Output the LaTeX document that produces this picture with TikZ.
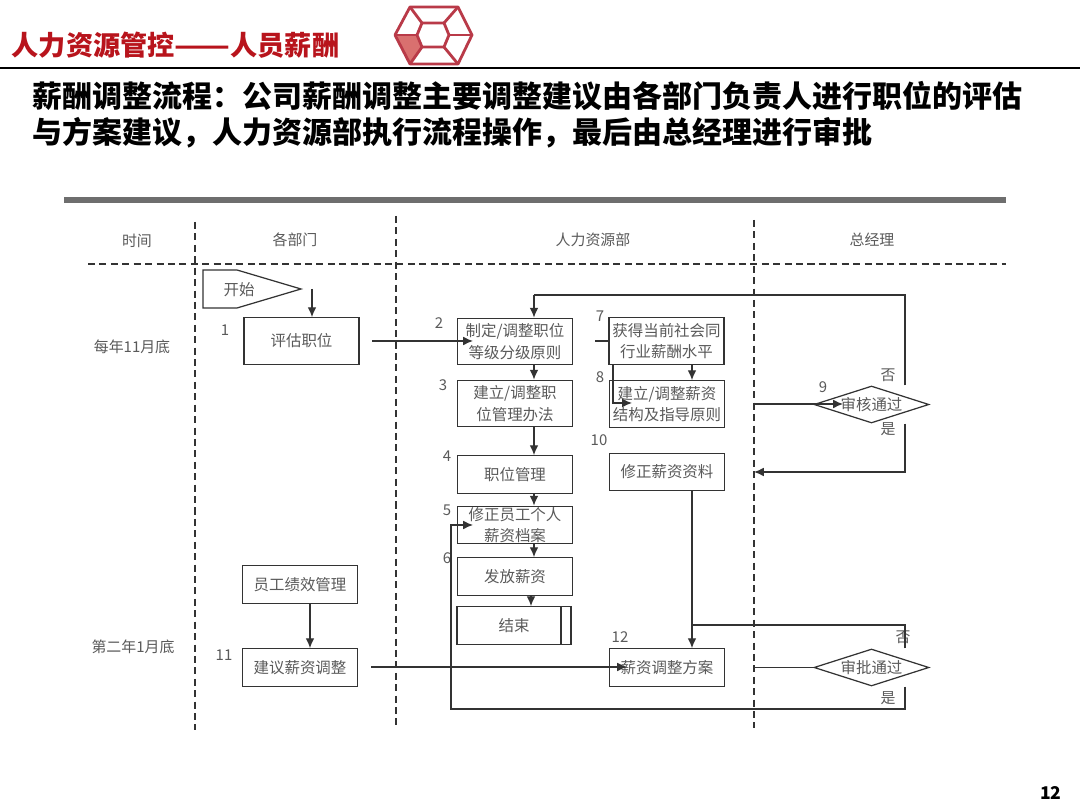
\documentclass[tikz,border=0pt]{standalone}
\usepackage{fontspec}
\setmainfont{Noto Sans CJK SC}
\usepackage{tikz}
\usetikzlibrary{shapes.geometric,arrows.meta}
\tikzset{
  flowbox/.style={draw=boxline,line width=0.7pt,text=boxtext,minimum width=2.3cm,align=center,inner sep=0pt,font=\fontsize{8.8}{12.2}\selectfont},
  tallbox/.style={flowbox,minimum height=0.93cm},
  lowbox/.style={flowbox,minimum height=0.75cm},
  decide/.style={draw=boxline,line width=0.7pt,text=boxtext,inner sep=0pt,shape=diamond,aspect=3.1,minimum width=2.3cm,minimum height=0.74cm,font=\fontsize{8.8}{12.2}\selectfont},
  tag/.style={text=boxtext,inner sep=0pt,font=\fontsize{8.5}{10}\selectfont},
  flow/.style={draw=boxline,line width=0.75pt,-{Latex[length=5.6pt,width=5pt]}},
  plainflow/.style={draw=boxline,line width=0.75pt},
  lane/.style={draw=boxline,line width=0.7pt,dash pattern=on 4pt off 2.5pt},
  logoline/.style={draw=logored,line width=1.6pt,line join=round}
}
\definecolor{boxline}{HTML}{333333}
\definecolor{boxtext}{HTML}{5A5A5A}
\definecolor{titlered}{HTML}{B8141C}
\definecolor{logored}{HTML}{B93A48}
\definecolor{logofill}{HTML}{D9706F}
\definecolor{barcolor}{HTML}{6E6E6E}
\begin{document}
\begin{tikzpicture}[x=0.02cm,y=-0.02cm]
    \useasboundingbox (0,0) rectangle (1080,810);
    \fill[white] (0,0) rectangle (1080,810);
    \node[anchor=west,text=titlered,inner sep=0pt,font=\bfseries\fontsize{15.45}{18}\selectfont] (pagehead) at (11.5,45) {人力资源管控\scalebox{1.2}[1]{——}人员薪酬};
    \fill[logofill] (395,35) -- (417,35) -- (422,47) -- (410,64) -- cycle;
    \draw[logoline] (395,35) -- (410,7) -- (458,7) -- (472,35) -- (458,64) -- (410,64) -- cycle;
    \draw[logoline] (417,35) -- (422,23) -- (444,23) -- (449,35) -- (444,47) -- (422,47) -- cycle;
    \draw[logoline] (395,35) -- (417,35);
    \draw[logoline] (449,35) -- (472,35);
    \draw[logoline] (410,7) -- (422,23);
    \draw[logoline] (458,7) -- (444,23);
    \draw[logoline] (410,64) -- (422,47);
    \draw[logoline] (458,64) -- (444,47);
    \draw[black,line width=0.8pt] (0,68) -- (1080,68);
    \node[anchor=west,align=left,text=black,inner sep=0pt,font=\bfseries\fontsize{17.07}{20.6}\selectfont] (headline) at (32,115) {薪酬调整流程：公司薪酬调整主要调整建议由各部门负责人进行职位的评估\\与方案建议，人力资源部执行流程操作，最后由总经理进行审批};
    \fill[barcolor] (64,197) rectangle (1006,203);
    % swim lanes
    \draw[lane] (88,264) -- (1006,264);
    \draw[lane] (195,222) -- (195,730);
    \draw[lane] (396,216) -- (396,725);
    \draw[lane] (754,220) -- (754,728);
    \node[tag] (lanetime) at (137,241) {时间};
    \node[tag] (lanedept) at (295,240) {各部门};
    \node[tag] (lanehr) at (593,240) {人力资源部};
    \node[tag] (lanegm) at (872,240) {总经理};
    \node[tag] (timeone) at (132,347) {每年11月底};
    \node[tag] (timetwo) at (133,647) {第二年1月底};
    % start
    \draw[draw=boxline,line width=0.7pt] (203,270) -- (237,270) -- (301,289) -- (237,308) -- (203,308) -- cycle;
    \node[tag,font=\fontsize{8.8}{10}\selectfont] (start) at (239,290) {开始};
    % boxes
    \node[tallbox] (assess) at (301.5,341) {评估职位};
    \node[tallbox] (rule) at (515,341.5) {制定/调整职位\\等级分级原则};
    \node[tallbox] (method) at (515,403.5) {建立/调整职\\位管理办法};
    \node[lowbox] (manage) at (515,474.5) {职位管理};
    \node[lowbox] (archive) at (515,525) {修正员工个人\\薪资档案};
    \node[lowbox] (payout) at (515,576.5) {发放薪资};
    \node[lowbox,minimum width=2.28cm] (finish) at (514,625.5) {结束};
    \draw[draw=boxline,line width=0.7pt] (561,607) -- (561,644);
    \node[tallbox] (market) at (666.5,341) {获得当前社会同\\行业薪酬水平};
    \node[tallbox] (salary) at (667,404) {建立/调整薪资\\结构及指导原则};
    \node[lowbox] (revise) at (667,472) {修正薪资资料};
    \node[lowbox] (plan) at (667,667.5) {薪资调整方案};
    \node[lowbox] (perform) at (300,584.5) {员工绩效管理};
    \node[lowbox] (suggest) at (300,667.5) {建议薪资调整};
    \node[decide] (audit) at (871.5,404.5) {审核通过};
    \node[decide] (approve) at (871.5,667.5) {审批通过};
    % numbers
    \node[tag] (numa) at (225,330) {1};
    \node[tag] (numb) at (439,323) {2};
    \node[tag] (numc) at (443,385) {3};
    \node[tag] (numd) at (447,456) {4};
    \node[tag] (nume) at (447,510) {5};
    \node[tag] (numf) at (447,558) {6};
    \node[tag] (numg) at (600,316) {7};
    \node[tag] (numh) at (600,377) {8};
    \node[tag] (numi) at (823,387) {9};
    \node[tag] (numj) at (599,440) {10};
    \node[tag] (numk) at (224,655) {11};
    \node[tag] (numl) at (620,637) {12};
    \node[tag] (noa) at (888,375) {否};
    \node[tag] (yesa) at (888,429) {是};
    \node[tag] (nob) at (903,637) {否};
    \node[tag] (yesb) at (888,698) {是};
    % free ends
    \coordinate (startend) at (312,289);
    \coordinate (assessend) at (372,341);
    \coordinate (ruletip) at (473,341);
    \coordinate (ruleabove) at (534,295);
    \coordinate (rightup) at (905,295);
    \coordinate (rightdown) at (905,472);
    \coordinate (backtip) at (754,472);
    \coordinate (stubstart) at (595,341);
    \coordinate (salarytip) at (632,403);
    \coordinate (salaryturn) at (613,403);
    \coordinate (salaryend) at (754,404);
    \coordinate (audittip) at (843,404);
    \coordinate (approvestart) at (754,667.5);
    \coordinate (reworkright) at (905,625);
    \coordinate (reworkleft) at (692,625);
    \coordinate (lowright) at (905,709);
    \coordinate (lowleft) at (451,709);
    \coordinate (archiveturn) at (451,525);
    \coordinate (archivetip) at (473,525);
    \coordinate (suggestend) at (371,667);
    \coordinate (plantip) at (627,667);
    \coordinate (payoutline) at (531,600);
    \coordinate (performline) at (310,600);
    % connectors
    \draw[flow] (startend) -- (startend |- assess.north);
    \draw[flow] (assessend) -- (ruletip);
    \draw[plainflow] (rightup |- audit.north) -- (rightup) -- (ruleabove);
    \draw[flow] (ruleabove) -- (ruleabove |- rule.north);
    \draw[flow] (ruleabove |- rule.south) -- (ruleabove |- method.north);
    \draw[flow] (ruleabove |- method.south) -- (ruleabove |- manage.north);
    \draw[flow] (ruleabove |- manage.south) -- (ruleabove |- archive.north);
    \draw[flow] (ruleabove |- archive.south) -- (ruleabove |- payout.north);
    \draw[flow] (payoutline |- payout.south) -- (payoutline |- finish.north);
    \draw[plainflow] (stubstart) -- (stubstart -| market.west);
    \draw[flow] (salaryturn |- market.south) -- (salaryturn) -- (salarytip);
    \draw[flow] (reworkleft |- market.south) -- (reworkleft |- salary.north);
    \draw[flow] (salaryend) -- (audittip);
    \draw[flow] (reworkleft |- revise.south) -- (reworkleft |- plan.north);
    \draw[flow] (rightdown |- audit.south) -- (rightdown) -- (backtip);
    \draw[flow] (performline |- perform.south) -- (performline |- suggest.north);
    \draw[flow] (suggestend) -- (plantip);
    \draw[plainflow] (approvestart) -- (approve.west);
    \draw[plainflow] (reworkright |- approve.north) -- (reworkright) -- (reworkleft);
    \draw[flow] (lowright |- approve.south) -- (lowright) -- (lowleft) -- (archiveturn) -- (archivetip);
    \node[anchor=east,inner sep=0pt,text=black,font=\bfseries\fontsize{10}{12}\selectfont] (pagenum) at (1062,793) {12};
\end{tikzpicture}
\end{document}
